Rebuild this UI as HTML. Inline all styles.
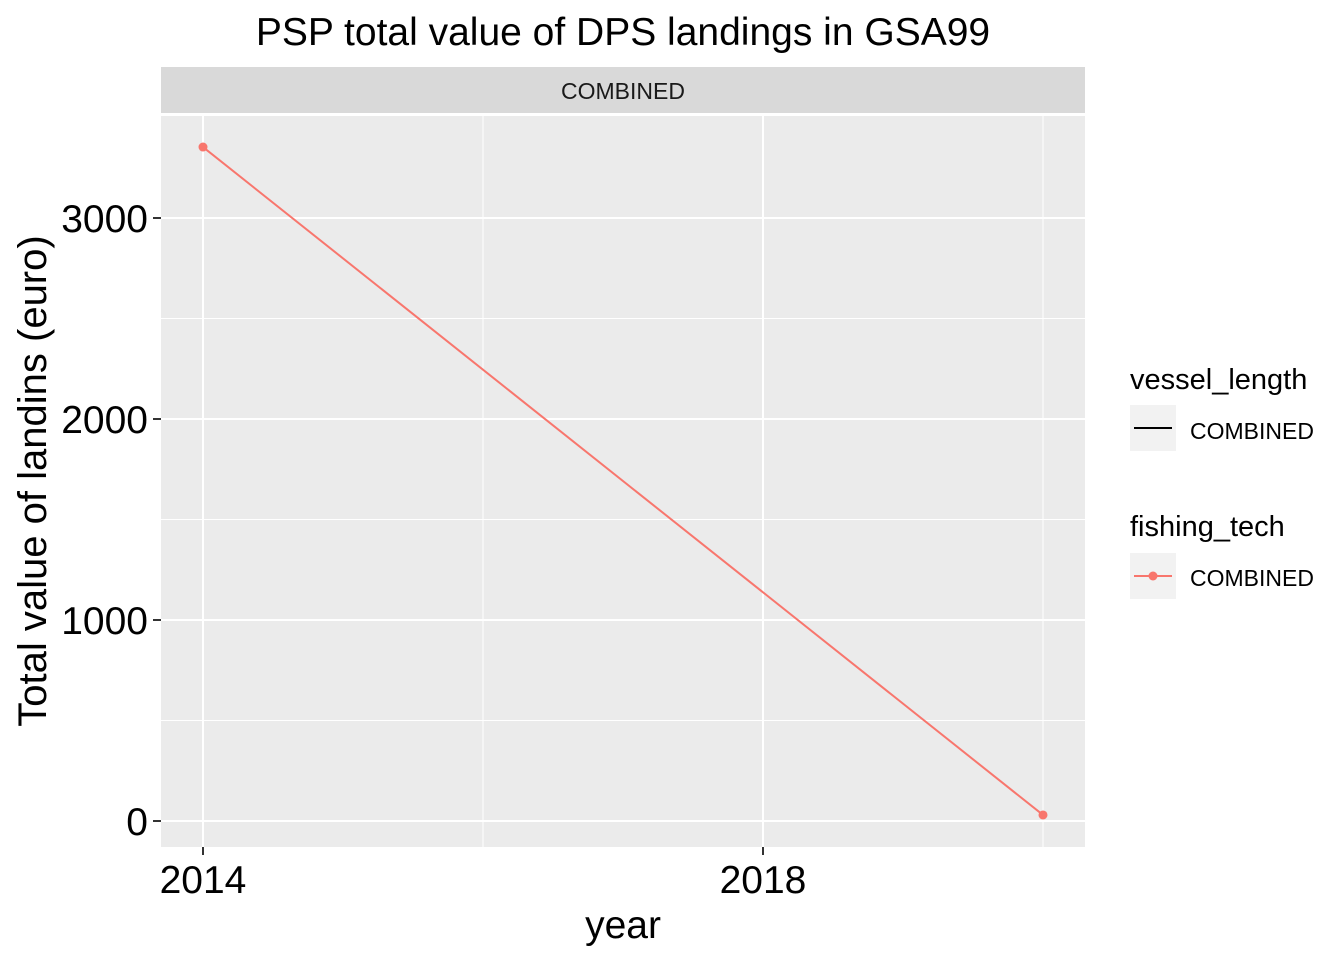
<!DOCTYPE html>
<html><head><meta charset="utf-8"><style>
body{margin:0;background:#fff;font-family:"Liberation Sans",Arial,sans-serif;}
</style></head><body>
<svg width="1344" height="960" xmlns="http://www.w3.org/2000/svg">
<text x="623" y="45" font-size="39" text-anchor="middle" fill="#000">PSP total value of DPS landings in GSA99</text>
<rect x="161" y="67" width="924" height="46" fill="#d9d9d9"/>
<text x="623" y="99" font-size="23" text-anchor="middle" fill="#1a1a1a">COMBINED</text>
<rect x="161" y="116" width="924" height="731" fill="#ebebeb"/>
<g id="grid"></g><g id="axes"></g><g id="marks"></g>
<text x="623" y="938" font-size="39" text-anchor="middle">year</text>
<text transform="translate(46,481) rotate(-90)" font-size="40" text-anchor="middle">Total value of landins (euro)</text>
<g>
<text x="1130" y="389" font-size="29">vessel_length</text>
<rect x="1130" y="405" width="46" height="46" fill="#f2f2f2"/>
<line x1="1134" y1="428" x2="1172" y2="428" stroke="#000" stroke-width="2"/>
<text x="1190" y="439" font-size="23">COMBINED</text>
</g>
<g>
<text x="1130" y="536" font-size="29">fishing_tech</text>
<rect x="1130" y="553" width="46" height="46" fill="#f2f2f2"/>
<line x1="1134" y1="576" x2="1172" y2="576" stroke="#f8766d" stroke-width="2"/>
<circle cx="1153" cy="576" r="4.5" fill="#f8766d"/>
<text x="1190" y="586" font-size="23">COMBINED</text>
</g>
</svg>
<script>
const years=[2014,2020];
const values=[3353,30];
const xTicks=[2014,2018];
const xMinor=[2016,2020];
const yTicks=[0,1000,2000,3000];
const yMinor=[500,1500,2500];
const NS="http://www.w3.org/2000/svg";
const xs=v=>203+(v-2014)*140;
const ys=v=>821-v*0.201;
function mk(p,t,a){const e=document.createElementNS(NS,t);for(const k in a)e.setAttribute(k,a[k]);document.getElementById(p).appendChild(e);return e;}
yMinor.forEach(v=>{const e=mk('grid','line',{x1:161,x2:1085,y1:ys(v),y2:ys(v),stroke:'#fff','stroke-width':1});

});
xMinor.forEach(v=>{const e=mk('grid','line',{x1:xs(v),x2:xs(v),y1:116,y2:847,stroke:'#fff','stroke-width':1});

});
yTicks.forEach(v=>{const e=mk('grid','line',{x1:161,x2:1085,y1:ys(v),y2:ys(v),stroke:'#fff','stroke-width':2});


const t=mk('axes','line',{x1:153,x2:161,y1:ys(v),y2:ys(v),stroke:'#333','stroke-width':2});


const l=mk('axes','text',{x:148,y:ys(v)+14,'font-size':39,'text-anchor':'end',fill:'#000'});l.textContent=v;

});
xTicks.forEach(v=>{const e=mk('grid','line',{x1:xs(v),x2:xs(v),y1:116,y2:847,stroke:'#fff','stroke-width':2});


const t=mk('axes','line',{x1:xs(v),x2:xs(v),y1:847,y2:855,stroke:'#333','stroke-width':2});


const l=mk('axes','text',{x:xs(v),y:893,'font-size':39,'text-anchor':'middle',fill:'#000'});l.textContent=v;

});
const pl=mk('marks','polyline',{points:years.map((y,i)=>xs(y)+','+ys(values[i])).join(' '),fill:'none',stroke:'#f8766d','stroke-width':2});


years.forEach((y,i)=>{const c=mk('marks','circle',{cx:xs(y),cy:ys(values[i]),r:4.5,fill:'#f8766d'});

});
</script>
</body></html>
